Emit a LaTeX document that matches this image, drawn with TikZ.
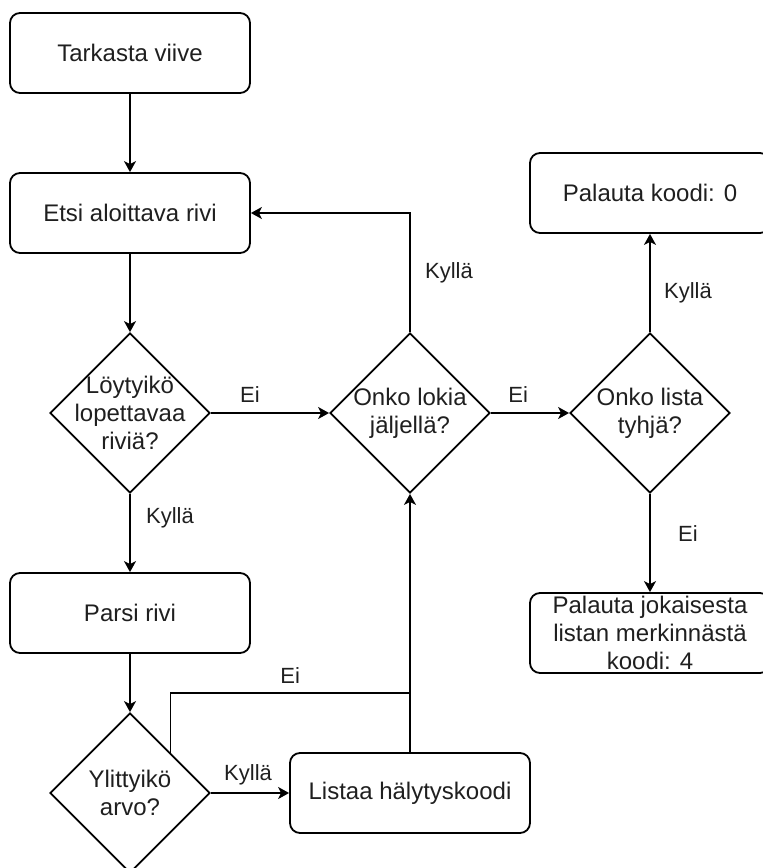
\documentclass[tikz,border=0pt]{standalone}
\usepackage{fontspec}
\setmainfont{Liberation Sans}
\usetikzlibrary{shapes.geometric,arrows.meta,calc}

\begin{document}
\begin{tikzpicture}[x=1pt,y=-1pt,
  box/.style={draw, line width=1.8pt, rounded corners=10pt,
    minimum width=240pt, minimum height=80pt, inner sep=0pt,
    align=center, text=black!88, font=\fontsize{24}{27.6}\selectfont},
  choice/.style={draw, line width=1.8pt, diamond,
    minimum width=160pt, minimum height=160pt, inner sep=0pt},
  qtext/.style={align=center, inner sep=0pt, text=black!88,
    font=\fontsize{24}{27.6}\selectfont},
  flow/.style={draw, line width=1.8pt,
    -{Stealth[length=11pt,width=12pt,inset=3pt]}},
  link/.style={draw, line width=1.8pt},
  lbl/.style={inner sep=0pt, text=black!88, font=\fontsize{22}{26}\selectfont}
]
\clip (0,0) rectangle (763,868);

% process boxes
\node[box] (tv)     at (130,53)  {Tarkasta viive};
\node[box] (etsi)   at (130,213) {Etsi aloittava rivi};
\node[box] (parsi)  at (130,613) {Parsi rivi};
\node[box] (listaa) at (410,793) {Listaa hälytyskoodi};
\node[box] (p0)     at (650,193) {Palauta koodi: 0};
\node[box] (p4)     at (650,633) {Palauta jokaisesta\\listan merkinnästä\\koodi: 4};

% decisions
\node[choice, label={[qtext]center:{Löytyikö\\lopettavaa\\riviä?}}] (d1) at (130,413) {};
\node[choice, label={[qtext]center:{Ylittyikö\\arvo?}}] (d4) at (130,793) {};
\node[choice, label={[qtext]center:{Onko lokia\\jäljellä?}}] (d2) at (410,413) {};
\node[choice, label={[qtext]center:{Onko lista\\tyhjä?}}] (d3) at (650,413) {};

\coordinate (merge) at (410,693);

% connectors
\draw[flow] (tv) -- (etsi);
\draw[flow] (etsi) -- (d1);
\draw[flow] (d1.east) -- node[lbl, pos=0.33, yshift=18pt] {Ei} (d2.west);
\draw[flow] (d1.south) -- node[lbl, pos=0.3, xshift=40pt] {Kyllä} (parsi.north);
\draw[flow] (parsi) -- (d4);
\draw[flow] (d4.east) -- node[lbl, pos=0.475, yshift=18pt] {Kyllä} (listaa.west);
\draw[link] ($(d4.north)!0.5!(d4.east)$) |- node[lbl, pos=0.75, yshift=17pt] {Ei} (merge);
\draw[flow] (listaa.north) -- (d2.south);
\draw[flow] (d2.north) |- node[lbl, pos=0.25, xshift=39pt] {Kyllä} (etsi.east);
\draw[flow] (d2.east) -- node[lbl, pos=0.35, yshift=18pt] {Ei} (d3.west);
\draw[flow] (d3.north) -- node[lbl, pos=0.4, xshift=38pt] {Kyllä} (p0.south);
\draw[flow] (d3.south) -- node[lbl, pos=0.4, xshift=38pt] {Ei} (p4.north);
\end{tikzpicture}
\end{document}
